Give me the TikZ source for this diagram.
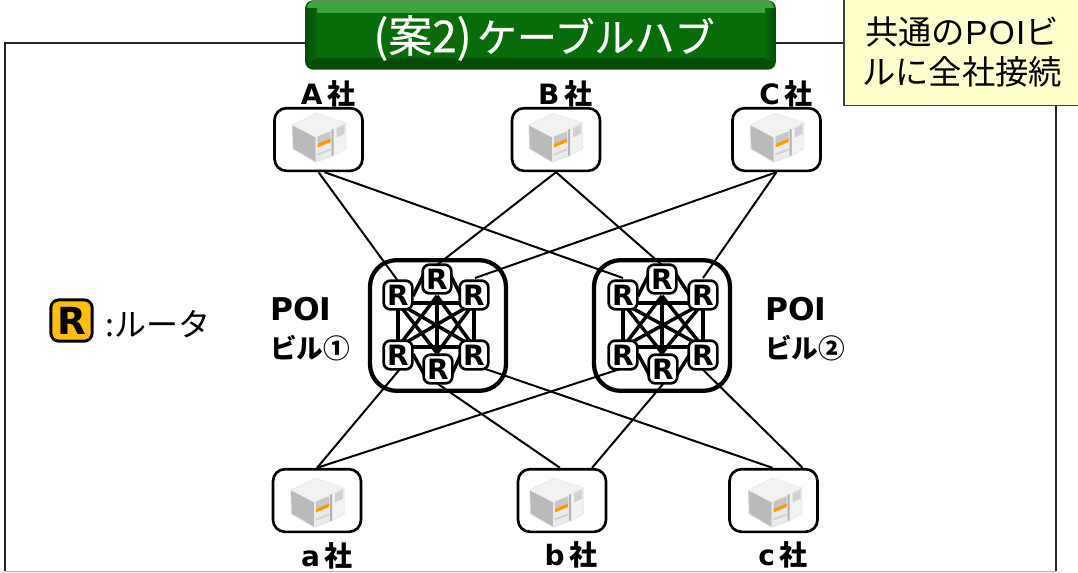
\documentclass[tikz,border=0pt]{standalone}
\usepackage{fontspec}
\setmainfont{DejaVu Sans}
\newfontfamily\cjk{Noto Sans CJK JP}
\newfontfamily\cjkm[FakeBold=0.5]{Noto Sans CJK JP}
\newfontfamily\cjkb{Noto Sans CJK JP Bold}
\newfontfamily\arial{Liberation Sans}
\usetikzlibrary{calc}
\definecolor{hubgreen}{HTML}{086C08}
\definecolor{hubdark}{HTML}{054D05}
\definecolor{hublight}{HTML}{3CA53C}
\definecolor{notefill}{HTML}{FFFFCC}
\definecolor{routeryellow}{HTML}{FFC000}
\tikzset{
  px/.style={x=0.75pt,y=-0.75pt},
  frame/.style={draw=black!85,line width=1.5pt},
  link/.style={draw=black,line width=1.5pt},
  mesh/.style={draw=black,line width=2.6pt},
  meshthick/.style={draw=black,line width=3.6pt},
  poibox/.style={draw=black,line width=3.2pt,rounded corners=20pt,minimum width=102pt,minimum height=98pt,inner sep=0pt},
  srvbox/.style={draw=black,fill=white,line width=2pt,rounded corners=9pt,minimum width=66pt,minimum height=47pt,inner sep=0pt},
  router/.style={draw=black,fill=white,line width=2pt,rounded corners=5pt,minimum width=21.5pt,minimum height=21.5pt,inner sep=0pt,font=\bfseries\fontsize{21}{21}\selectfont},
  co/.style={font=\bfseries\fontsize{21}{21}\selectfont,inner sep=0pt},
}
\newcommand{\srvicon}[2]{%
  \begin{scope}[shift={(#1,#2)}]
    \fill[black!12] (-26.5,-12.5) -- (-2,-24.5) -- (27.5,-15) -- (27.5,11.5) -- (15,18.5) -- (-3,25) -- (-26,11.5) -- cycle;
    \fill[black!5] (-26,-12) -- (-2,-24) -- (27,-15) -- (14,-8) -- (-3,0) -- cycle;
    \fill[black!27] (-26,-12) -- (-3,0) -- (-3,24) -- (-25,11) -- cycle;
    \fill[black!8] (-3,0) -- (13,-7.5) -- (13,18) -- (-3,24) -- cycle;
    \fill[black!5] (15,-8) -- (27,-14) -- (27,11) -- (15,18) -- cycle;
    \fill[black!30] (13,-8) -- (15,-8.5) -- (15,18) -- (13,18) -- cycle;
    \fill[black!22] (-1,-1) -- (12,-6) -- (12,2) -- (-1,7) -- cycle;
    \fill[black!18] (18,-9) -- (26,-13) -- (26,-4) -- (18,0) -- cycle;
    \fill[black!18] (-1,16) -- (12,11) -- (12,13) -- (-1,18) -- cycle;
    \fill[orange!80!yellow] (-1,6.5) -- (12,1) -- (12,4.5) -- (-1,10) -- cycle;
  \end{scope}}
\begin{document}
\begin{tikzpicture}[px]
\useasboundingbox (0,0) rectangle (1078,572);
% outer frame
\draw[frame] (5,571) -- (5,43) -- (1056,43) -- (1056,571);
\draw[black!30,line width=1pt] (5,571.3) -- (1056,571.3);
% title
\node[inner sep=0pt,minimum width=353pt,minimum height=52pt,rounded corners=6pt,fill=hubdark] (title) at (540.5,35) {};
\fill[hublight,rounded corners=5pt] (307,1) rectangle (774,14);
\shade[left color=hubdark,right color=hubgreen] (306,8) rectangle (318,60);
\shade[left color=hubgreen,right color=hubdark] (765,8) rectangle (775,60);
\fill[hublight] (318,1) -- (763,1) -- (765,13) -- (317,13) -- cycle;
\fill[hubgreen] (317,13) rectangle (765,58);
\fill[hubdark] (317,58) -- (765,58) -- (775,66) -- (307,66) -- cycle;
\node[text=white,inner sep=0pt] (titletext) at (544,38) {\cjkm\fontsize{33}{33}\selectfont(案2)\kern4pt{}\fontsize{30}{30}\selectfont ケーブルハブ};
% note
\node[draw=black!75,fill=notefill,line width=1.1pt,minimum width=177pt,minimum height=80pt,inner sep=0pt,align=center,font=\cjk\fontsize{25}{30}\selectfont] (note) at (962,52) {共通の{\arial\fontsize{25}{30}\selectfont P\kern1pt O\kern1pt I}ビ\\ルに全社接続};
% POI buildings
\node[poibox] (p1) at (438,325.5) {};
\node[poibox] (p2) at (662,325.5) {};
% servers
\node[srvbox] (A) at (318.5,139.5) {};
\node[srvbox] (B) at (556,139.5) {};
\node[srvbox] (C) at (776.5,139.5) {};
\node[srvbox] (a) at (317,500.5) {};
\node[srvbox] (b) at (562,500.5) {};
\node[srvbox] (c) at (773.5,500.5) {};
\srvicon{318.5}{137.5}
\srvicon{555}{137.5}
\srvicon{776.5}{137.5}
\srvicon{317}{502.5}
\srvicon{556}{502.5}
\srvicon{774.5}{502.5}
% router anchors
\foreach \p/\x/\y in {1/0/0,2/225/229} {
  \coordinate (r\p tl) at ({398+\x},295);
  \coordinate (r\p t) at ({437+\x},279);
  \coordinate (r\p tr) at ({474+\y},295);
  \coordinate (r\p bl) at ({398+\x},355);
  \coordinate (r\p b) at ({438+\x},369);
  \coordinate (r\p br) at ({474+\y},355);
  % mesh anchors
  \coordinate (m\p tl) at ({398+\x},303);
  \coordinate (m\p t) at ({437+\x},296);
  \coordinate (m\p tr) at ({474+\y},303);
  \coordinate (m\p bl) at ({398+\x},347);
  \coordinate (m\p b) at ({437+\x},353);
  \coordinate (m\p br) at ({474+\y},347);
  % hexagon side stubs
  \coordinate (s\p a) at ({427+\x},268);
  \coordinate (s\p b) at ({413+\x},296);
  \coordinate (s\p c) at ({447+\x},268);
  \coordinate (s\p d) at ({461+\y},296);
  \coordinate (s\p e) at ({413+\x},354);
  \coordinate (s\p f) at ({425+\x},376);
  \coordinate (s\p g) at ({461+\y},354);
  \coordinate (s\p h) at ({451+\x},376);
}
% links
\coordinate (A1) at ($(A.south)+(0,0)$);
\coordinate (A2) at ($(A.south)+(6,0)$);
\coordinate (b1) at ($(b.north)+(-2,0)$);
\coordinate (b2) at ($(b.north)+(30,0)$);
\coordinate (c1) at ($(c.north)+(-1,0)$);
\coordinate (c2) at ($(c.north)+(29,0)$);
\draw[link] (A1) -- ($(r1tl)+(0,-14)$);
\draw[link] (A2) -- ($(r2tl)+(0,-17)$);
\draw[link] (B.south) -- ($(r1t)+(0,-14)$);
\draw[link] (B.south) -- ($(r2t)+(0,-14)$);
\draw[link] (C.south) -- ($(r1tr)+(1,-17)$);
\draw[link] (C.south) -- ($(r2tr)+(0,-17)$);
\draw[link] (a.north) -- ($(r1bl)+(2,14)$);
\draw[link] (a.north) -- ($(r2bl)+(0,13)$);
\draw[link] (b1) -- ($(r1b)+(0,15)$);
\draw[link] (b2) -- ($(r2b)+(0,15)$);
\draw[link] (c1) -- ($(r1br)+(0,10)$);
\draw[link] (c2) -- ($(r2br)+(-12,3)$);
% mesh
\foreach \p in {1,2} {
  \foreach \u/\v in {tl/br,tl/b,t/bl,t/b,t/br,tr/bl,tr/b} {
    \draw[mesh] (m\p\u) -- (m\p\v);
  }
  \draw[mesh] (s\p a) -- (s\p b);
  \draw[mesh] (s\p c) -- (s\p d);
  \draw[mesh] (s\p e) -- (s\p f);
  \draw[mesh] (s\p g) -- (s\p h);
  \draw[meshthick] (m\p tl) rectangle (m\p br);
  \foreach \u in {tl,tr,bl,br,t,b} {
    \node[router] (R\p\u) at (r\p\u) {R};
  }
}
% labels
\node[co] (la) at (328,94) {A\,{\cjkb 社}};
\node[co] (lb) at (565,94) {B\,{\cjkb 社}};
\node[co] (lc) at (786,94) {C\,{\cjkb 社}};
\node[co] (ld) at (327,556) {a\,{\cjkb 社}};
\node[co] (le) at (571,555) {b\,{\cjkb 社}};
\node[co] (lf) at (783,555) {c\,{\cjkb 社}};
\node[co,anchor=west,font=\bfseries\fontsize{23.5}{24}\selectfont] (poi1) at (270,309) {POI};
\node[co,anchor=west] (poi1b) at (270,348) {\cjkb\fontsize{20}{20}\selectfont ビル①};
\node[co,anchor=west,font=\bfseries\fontsize{23.5}{24}\selectfont] (poi2) at (765,309) {POI};
\node[co,anchor=west] (poi2b) at (765,348) {\cjkb\fontsize{20}{20}\selectfont ビル②};
% legend
\node[draw=black,fill=routeryellow,line width=2.2pt,rounded corners=6pt,minimum width=31pt,minimum height=31pt,inner sep=0pt,font=\bfseries\fontsize{28}{28}\selectfont] (legend) at (71.5,320.5) {R};
\node[anchor=west,inner sep=0pt,font=\cjk\fontsize{24}{24}\selectfont] (legendtext) at (105,324) {:ルータ};
\end{tikzpicture}
\end{document}
